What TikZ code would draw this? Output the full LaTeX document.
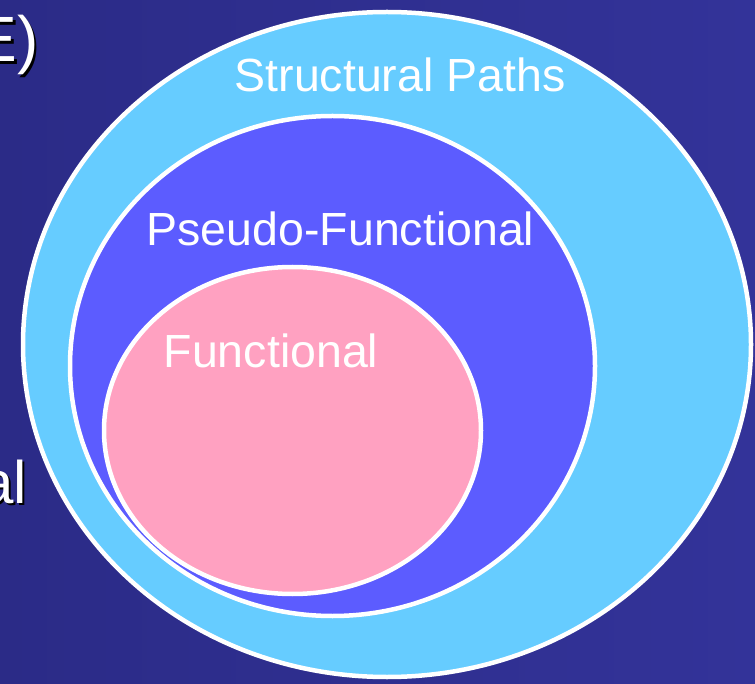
\documentclass[tikz,border=0pt]{standalone}
\usepackage{fontspec}
\setmainfont{Liberation Sans}
\usetikzlibrary{shapes.geometric}
\definecolor{bgdark}{HTML}{2B2B87}
\definecolor{bglight}{HTML}{333399}
\definecolor{outerc}{HTML}{66CCFF}
\definecolor{midc}{HTML}{5C5CFF}
\definecolor{pinkc}{HTML}{FFA1C1}
\begin{document}
\begin{tikzpicture}[x=1pt,y=-1pt,
  setel/.style={ellipse, draw=white, line width=4.5pt, inner sep=0pt, outer sep=0pt},
  lbl/.style={text=white, inner sep=0pt, anchor=base, font=\fontsize{46.5}{50}\selectfont},
  edgetxt/.style={inner sep=0pt, anchor=base east, font=\fontsize{#1}{#1}\selectfont},
  edgetxt/.default=60]
\shade[left color=bgdark, right color=bglight] (0,0) rectangle (755,684);
\useasboundingbox (0,0) rectangle (755,684);
% partial texts at left edge (shadow then white)
\node[edgetxt=64, text=black] (eshadow) at (41.5,64.5) {E)};
\node[edgetxt=64, text=white] (etext) at (39,62) {E)};
\node[edgetxt=60, text=black] (alshadow) at (29.5,505.5) {al};
\node[edgetxt=60, text=white] (altext) at (27,503) {al};
% nested sets
\node[setel, fill=outerc, minimum width=728pt, minimum height=665pt] (outer) at (387,344.5) {};
\node[setel, fill=midc, minimum width=525pt, minimum height=500pt] (mid) at (332.5,366) {};
\node[setel, fill=pinkc, minimum width=377pt, minimum height=327pt] (inner) at (292.5,430.5) {};
% labels
\node[lbl] (lstruct) at (400,92) {Structural Paths};
\node[lbl] (lpseudo) at (340.5,246) {Pseudo-Functional};
\node[lbl] (lfunc) at (271,368) {Functional};
\end{tikzpicture}
\end{document}
